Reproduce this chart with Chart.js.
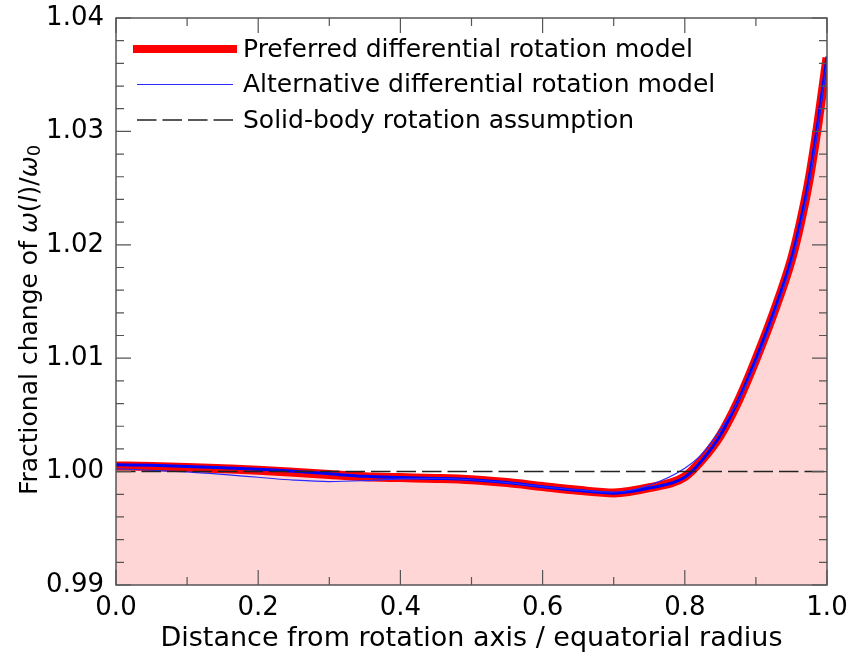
<!DOCTYPE html>
<html>
<head>
<meta charset="utf-8">
<script src="https://cdn.jsdelivr.net/npm/chart.js@4.4.0/dist/chart.umd.min.js"></script>
<style>
  body { margin: 0; background: #fff; }
  #vis { width: 850px; height: 655px; }
</style>
</head>
<body>
<div id="vis"><canvas id="rotChart" width="850" height="655"></canvas></div>
<script>
// distance from rotation axis / equatorial radius
const xVals = [0.00, 0.05, 0.10, 0.15, 0.20, 0.25, 0.30, 0.35, 0.40, 0.45, 0.50, 0.55,
               0.60, 0.65, 0.70, 0.75, 0.80, 0.825, 0.85, 0.875, 0.90, 0.925, 0.95, 0.9625, 0.975, 0.9875, 1.00]

// preferred model (thick red band + blue centre line)
const preferred = [1.00050, 1.00046, 1.00037, 1.00025, 1.00012, 0.99995, 0.99975, 0.99955, 0.99947, 0.99940, 0.99928, 0.99903,
                   0.99868, 0.99835, 0.99812, 0.99858, 0.99955, 1.00110, 1.00320, 1.00620, 1.00990, 1.01400, 1.01870, 1.02190, 1.02580, 1.03080, 1.03650]
const preferredCore = [1.00060, 1.00055, 1.00046, 1.00034, 1.00020, 1.00003, 0.99980, 0.99958, 0.99948, 0.99940, 0.99928, 0.99903,
                       0.99866, 0.99833, 0.99810, 0.99855, 0.99950, 1.00105, 1.00320, 1.00625, 1.00995, 1.01405, 1.01880, 1.02200, 1.02590, 1.03090, 1.03660]
// alternative model (thin blue)
const alternative = [1.00025, 1.00012, 0.99997, 0.99975, 0.99950, 0.99925, 0.99912, 0.99920, 0.99935, 0.99940, 0.99928, 0.99903,
                     0.99868, 0.99838, 0.99818, 0.99880, 1.00030, 1.00160, 1.00370, 1.00620, 1.00960, 1.01370, 1.01840, 1.02160, 1.02550, 1.03050, 1.03630]
const solidBody = 1.0

const xTicks = [0.0, 0.2, 0.4, 0.6, 0.8, 1.0]
const yTicks = [0.99, 1.00, 1.01, 1.02, 1.03, 1.04]

const legendItems = [
    { label: 'Preferred differential rotation model', color: 'rgb(255,0,0)', width: 8, dash: [], x0: 133, x1: 237 },
    { label: 'Alternative differential rotation model', color: 'rgb(40,40,255)', width: 1.2, dash: [], x0: 137, x1: 233 },
    { label: 'Solid-body rotation assumption', color: '#222', width: 1.5, dash: [19.5, 6], x0: 137, x1: 233 }
]

const FONT = "'DejaVu Sans', sans-serif"
const xTitleText = 'Distance from rotation axis / equatorial radius'

function pts(ys) {
    return xVals.map((x, i) => ({ x: x, y: ys[i] }))
}

// inward ticks on all four sides plus the frame
const frameTicks = {
    id: 'frameTicks',
    afterDatasetsDraw(chart) {
        const ctx = chart.ctx
        const a = chart.chartArea
        const xs = chart.scales.x, ys = chart.scales.y
        ctx.save()
        ctx.strokeStyle = '#555'
        ctx.lineWidth = 1.2
        for (let i = 0; i <= 10; i++) {
            const px = xs.getPixelForValue(i / 10)
            const len = (i % 2 === 0) ? 15 : 8
            ctx.beginPath()
            ctx.moveTo(px, a.bottom); ctx.lineTo(px, a.bottom - len)
            ctx.moveTo(px, a.top); ctx.lineTo(px, a.top + len)
            ctx.stroke()
        }
        for (let i = 0; i <= 25; i++) {
            const py = ys.getPixelForValue(0.99 + i * 0.002)
            const len = (i % 5 === 0) ? 15 : 8
            ctx.beginPath()
            ctx.moveTo(a.left, py); ctx.lineTo(a.left + len, py)
            ctx.moveTo(a.right, py); ctx.lineTo(a.right - len, py)
            ctx.stroke()
        }
        ctx.lineWidth = 1.5
        ctx.strokeRect(a.left, a.top, a.right - a.left, a.bottom - a.top)
        ctx.restore()
    }
}

// legend drawn inside the plot, top left
const innerLegend = {
    id: 'innerLegend',
    afterDraw(chart) {
        const ctx = chart.ctx
        ctx.save()
        ctx.font = '25px ' + FONT
        ctx.textBaseline = 'middle'
        ctx.fillStyle = '#000'
        legendItems.forEach((it, i) => {
            const y = 49 + i * 35.5
            ctx.beginPath()
            ctx.strokeStyle = it.color
            ctx.lineWidth = it.width
            ctx.setLineDash(it.dash)
            ctx.moveTo(it.x0, y)
            ctx.lineTo(it.x1, y)
            ctx.stroke()
            ctx.setLineDash([])
            ctx.fillText(it.label, 243, y + 1)
        })
        ctx.restore()
    }
}

// axis titles; y title with italic omega(l) / omega_0
const axisTitles = {
    id: 'axisTitles',
    afterDraw(chart) {
        const ctx = chart.ctx
        const a = chart.chartArea
        ctx.save()
        ctx.fillStyle = '#000'
        ctx.font = '27px ' + FONT
        ctx.textAlign = 'center'
        ctx.textBaseline = 'alphabetic'
        ctx.fillText(xTitleText, (a.left + a.right) / 2, 646)

        const parts = [
            { t: 'Fractional change of ', f: '25px ' + FONT, dy: 0 },
            { t: 'ω', f: 'oblique 25px ' + FONT, dy: 0 },
            { t: '(', f: '25px ' + FONT, dy: 0 },
            { t: 'l', f: 'oblique 25px ' + FONT, dy: 0 },
            { t: ')/', f: '25px ' + FONT, dy: 0 },
            { t: 'ω', f: 'oblique 25px ' + FONT, dy: 0 },
            { t: '0', f: '18px ' + FONT, dy: 5 }
        ]
        let total = 0
        parts.forEach(p => { ctx.font = p.f; p.w = ctx.measureText(p.t).width; total += p.w })
        ctx.translate(30, 320)
        ctx.rotate(-Math.PI / 2)
        ctx.textAlign = 'left'
        ctx.textBaseline = 'middle'
        let x = -total / 2
        parts.forEach(p => {
            ctx.font = p.f
            ctx.fillText(p.t, x, p.dy)
            x += p.w
        })
        ctx.restore()
    }
}

const ctx = document.getElementById('rotChart')
const myChart = new Chart(ctx, {
    type: 'line',
    data: {
        datasets: [
            {
                label: 'Solid-body rotation assumption',
                data: [{ x: 0, y: solidBody }, { x: 1, y: solidBody }],
                borderColor: '#222',
                borderWidth: 1.5,
                borderDash: [19.5, 6],
                pointRadius: 0,
                fill: false,
                order: 1
            },
            {
                label: 'Alternative differential rotation model',
                data: pts(alternative),
                borderColor: 'rgb(40,40,255)',
                borderWidth: 1.2,
                pointRadius: 0,
                cubicInterpolationMode: 'monotone',
                fill: false,
                order: 2
            },
            {
                label: 'core',
                data: pts(preferredCore),
                borderColor: 'rgb(0,0,255)',
                borderWidth: 3,
                pointRadius: 0,
                cubicInterpolationMode: 'monotone',
                fill: false,
                order: 3
            },
            {
                label: 'Preferred differential rotation model',
                data: pts(preferred),
                borderColor: 'rgb(255,0,0)',
                borderWidth: 9,
                pointRadius: 0,
                cubicInterpolationMode: 'monotone',
                fill: 'start',
                backgroundColor: 'rgba(255,0,0,0.16)',
                order: 4
            }
        ]
    },
    options: {
        responsive: false,
        animation: false,
        layout: { padding: { top: 18, right: 23, left: 0, bottom: 0 } },
        plugins: {
            legend: { display: false },
            tooltip: { enabled: false }
        },
        scales: {
            x: {
                type: 'linear',
                min: 0,
                max: 1,
                afterBuildTicks: s => { s.ticks = xTicks.map(v => ({ value: v })) },
                afterFit: s => { s.height = 70; s.paddingLeft = 0; s.paddingRight = 0 },
                ticks: {
                    callback: v => Number(v).toFixed(1),
                    font: { family: FONT, size: 26 },
                    color: '#000',
                    padding: 8,
                    maxRotation: 0
                },
                grid: { display: false, drawTicks: false },
                border: { display: false }
            },
            y: {
                type: 'linear',
                min: 0.99,
                max: 1.04,
                afterBuildTicks: s => { s.ticks = yTicks.map(v => ({ value: v })) },
                afterFit: s => { s.width = 116; s.paddingTop = 0; s.paddingBottom = 0 },
                ticks: {
                    callback: v => Number(v).toFixed(2),
                    font: { family: FONT, size: 26 },
                    color: '#000',
                    padding: 12
                },
                grid: { display: false, drawTicks: false },
                border: { display: false }
            }
        }
    },
    plugins: [frameTicks, innerLegend, axisTitles]
})
</script>
</body>
</html>
